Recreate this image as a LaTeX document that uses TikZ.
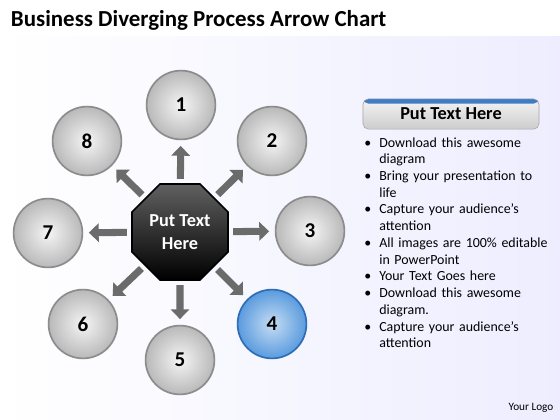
\documentclass[tikz,border=0pt]{standalone}
\usepackage{fontspec}
\setmainfont{Carlito}
\usetikzlibrary{positioning, arrows.meta, shapes.geometric}
\definecolor{rimgray}{HTML}{8C8C8C}
\definecolor{ballblue}{HTML}{5A9BDE}
\definecolor{rimblue}{HTML}{2F6DB5}
\definecolor{stripblue}{HTML}{3E7CC6}
\newcommand\bulletline[1]{\par\hangindent=10.7pt\hangafter=1\noindent\makebox[10.7pt][l]{\textbullet}#1}
\tikzset{
  ball/.style={
    circle,
    minimum size=1.72cm,
    inner sep=0pt,
    shading=radial,
    inner color=gray!8,
    outer color=gray!55,
    draw=rimgray,
    line width=1.2pt,
    font=\fontsize{15}{18}\selectfont\bfseries
  },
  blueball/.style={
    ball,
    inner color=ballblue!35!white,
    outer color=ballblue,
    draw=rimblue
  },
  hub/.style={
    regular polygon,
    regular polygon sides=8,
    minimum size=2.6cm,
    inner sep=0pt,
    top color=gray!75!black,
    bottom color=black,
    draw=black,
    line width=1.2pt,
    text=white,
    align=center,
    font=\fontsize{13}{16}\selectfont\bfseries
  },
  spoke/.style={
    line width=5pt,
    draw=black!58,
    -{Triangle[length=7pt,width=13pt]},
    shorten <=3pt,
    shorten >=4pt
  },
  headbox/.style={
    draw=gray!70,
    rounded corners=4pt,
    minimum width=4.4cm,
    minimum height=0.76cm,
    top color=gray!8,
    bottom color=gray!40,
    font=\fontsize{13}{15}\selectfont\bfseries,
    path picture={\fill[stripblue] (path picture bounding box.north west) rectangle ([yshift=-3.5pt]path picture bounding box.north east);}
  },
  bulletlist/.style={
    text width=4.7cm,
    inner sep=0pt,
    font=\fontsize{9.9}{11.9}\selectfont
  }
}

\begin{document}
\begin{tikzpicture}[x=0.025cm, y=-0.025cm]
        \useasboundingbox (0,0) rectangle (560,420);
        \shade[left color=white, right color=blue!7!white] (0,37) rectangle (560,420);
        \node[anchor=west, font=\fontsize{16.3}{19}\selectfont\bfseries] (title) at (6,20) {Business Diverging Process Arrow Chart};

        % centre and the eight steps
        \node[hub] (hub) at (180,232) {Put Text\\Here};
        \node[ball] (s1) at (181,105) {1};
        \node[ball] (s2) at (272,141) {2};
        \node[ball] (s3) at (310,231) {3};
        \node[blueball] (s4) at (272,324) {4};
        \node[ball] (s5) at (180,360) {5};
        \node[ball] (s6) at (83,324) {6};
        \node[ball] (s7) at (48,233) {7};
        \node[ball] (s8) at (87,141) {8};

        \draw[spoke] (hub) -- (s1);
        \draw[spoke] (hub) -- (s2);
        \draw[spoke] (hub) -- (s3);
        \draw[spoke] (hub) -- (s4);
        \draw[spoke] (hub) -- (s5);
        \draw[spoke] (hub) -- (s6);
        \draw[spoke] (hub) -- (s7);
        \draw[spoke] (hub) -- (s8);

        % text panel
        \node[headbox] (head) at (451,114) {Put Text Here};
        \node[bulletlist, anchor=north west] (notes) at (364,130) {%
          \raggedright\hyphenpenalty=10000
          \bulletline{Download this awesome\newline diagram}
          \bulletline{Bring your presentation to\newline life}
          \bulletline{Capture your audience’s\newline attention}
          \bulletline{All images are 100\% editable\newline in PowerPoint}
          \bulletline{Your Text Goes here}
          \bulletline{Download this awesome\newline diagram.}
          \bulletline{Capture your audience’s\newline attention}\par};
        \node[font=\fontsize{8}{10}\selectfont] (logo) at (531,408) {Your Logo};
      \end{tikzpicture}
\end{document}
